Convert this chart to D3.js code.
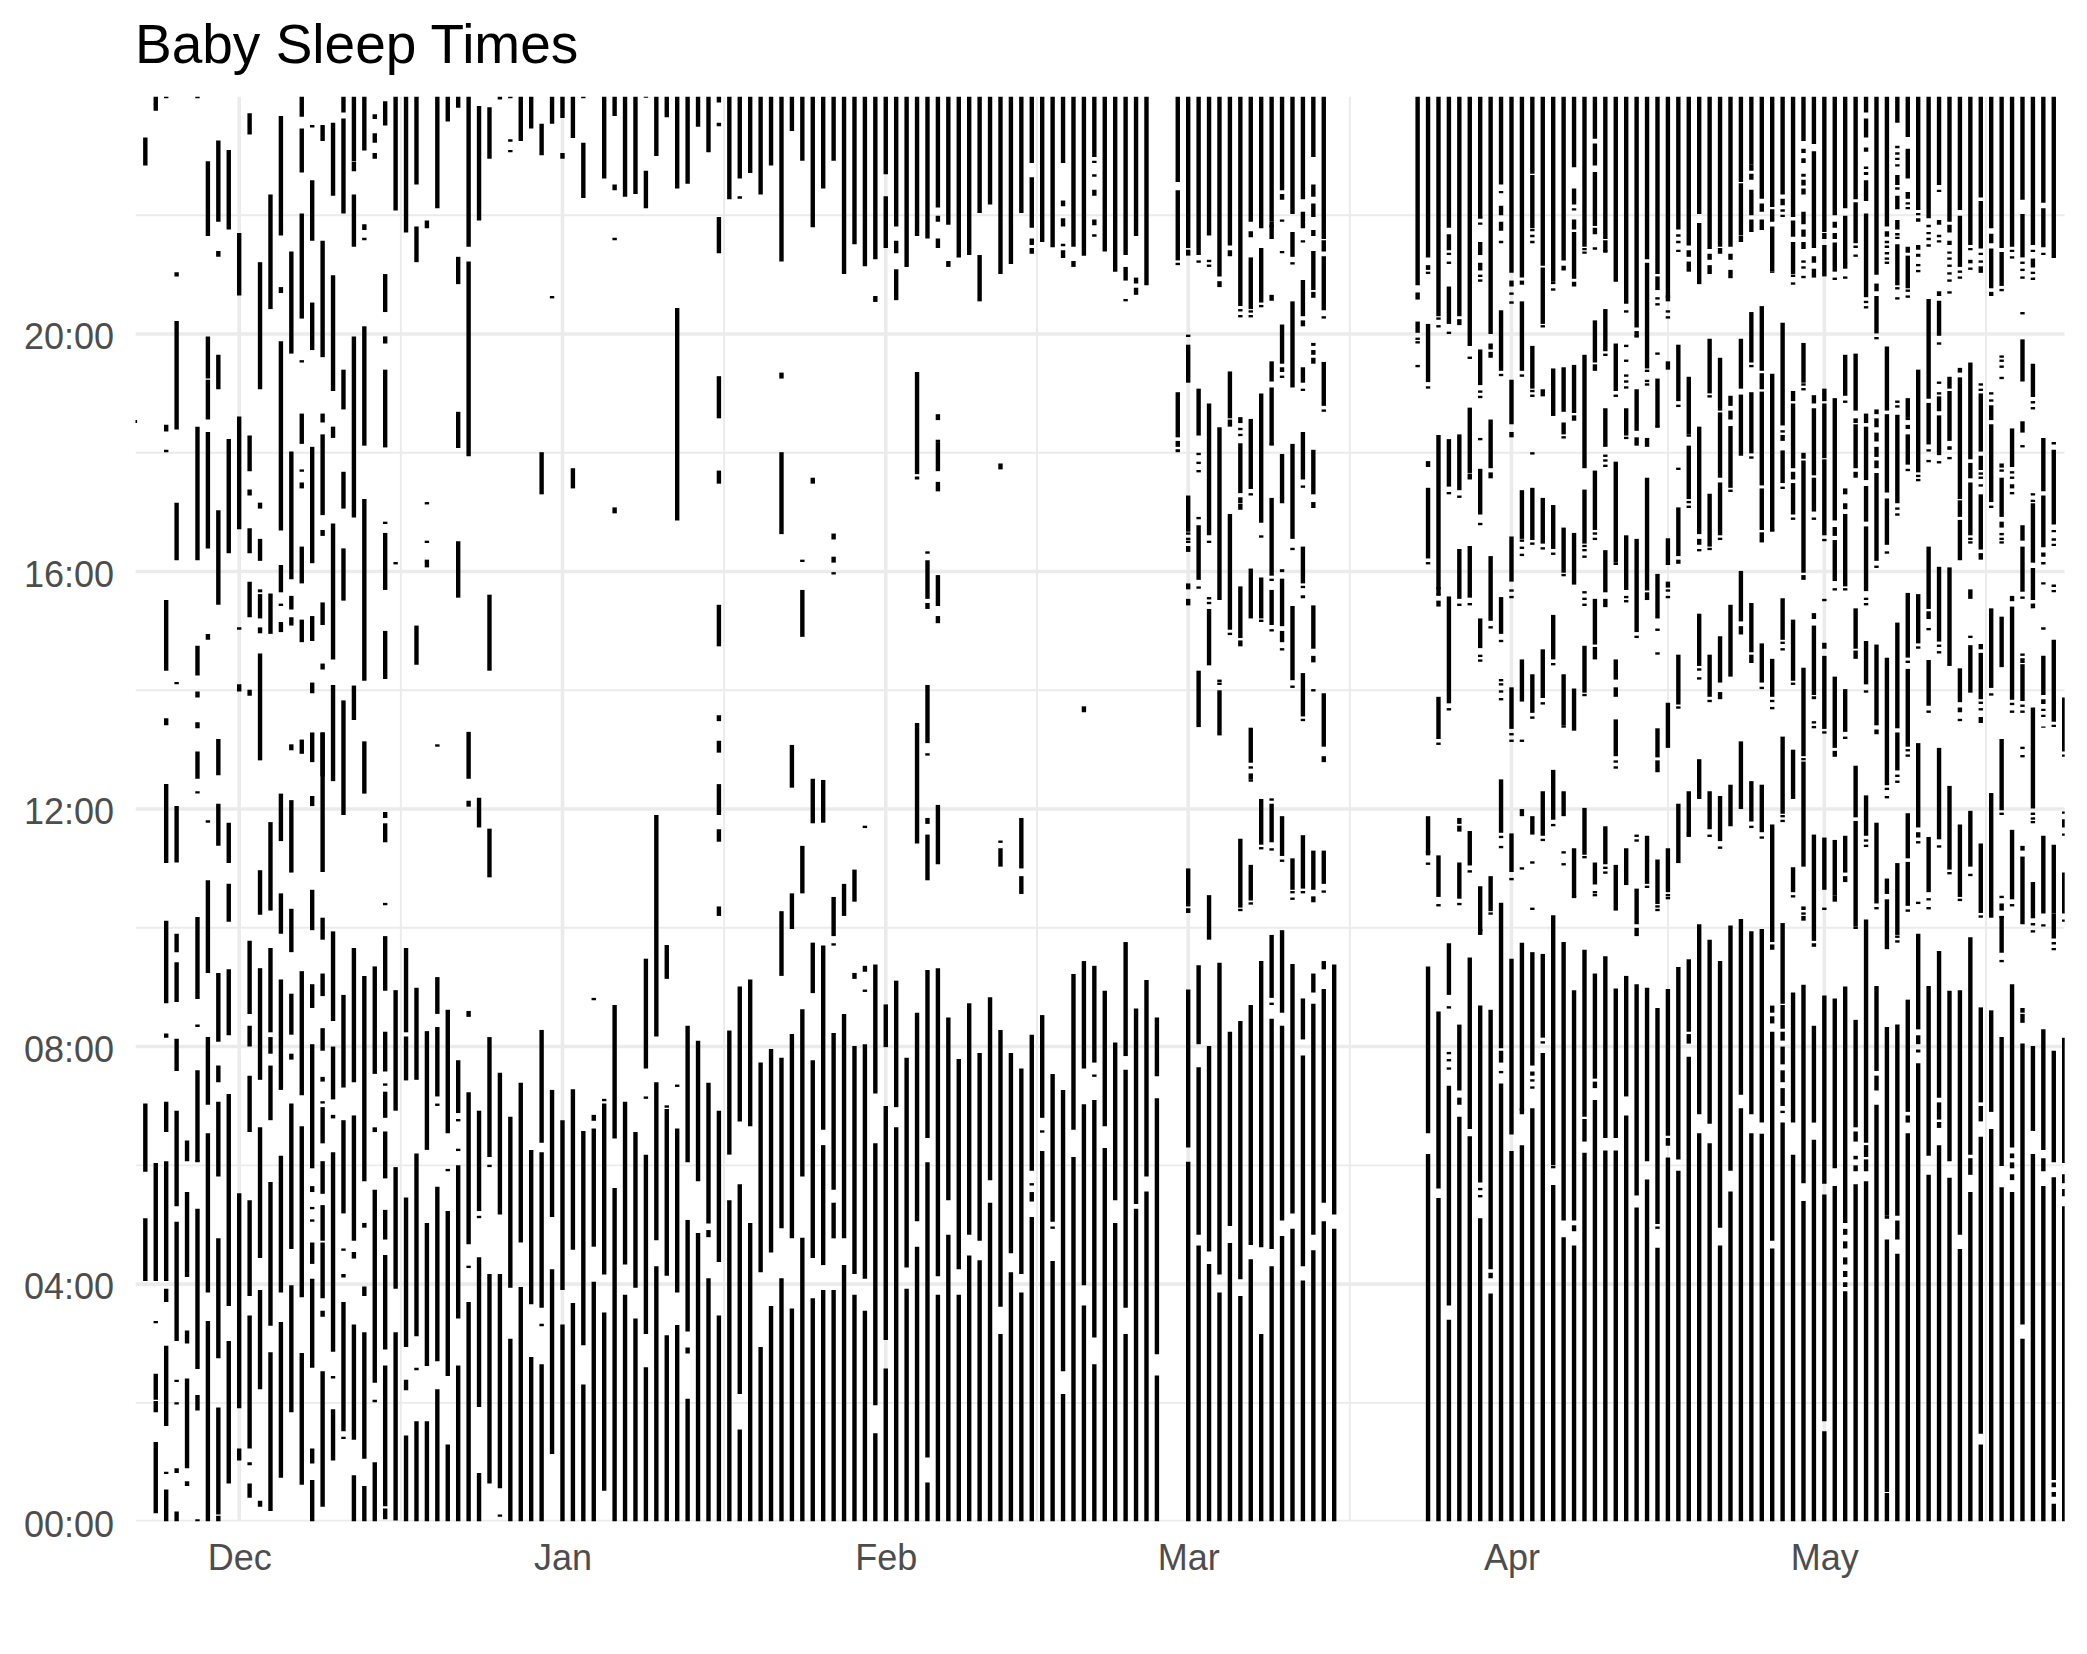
<!DOCTYPE html>
<html><head><meta charset="utf-8">
<script src="https://cdn.jsdelivr.net/npm/d3@7/dist/d3.min.js"></script>
<style>html,body{margin:0;padding:0;background:#fff}svg{display:block}</style>
</head><body><svg id="c" width="2087" height="1654"></svg>
<script>
const titleText = "Baby Sleep Times";
const hourTicks = [0,4,8,12,16,20];
const hourMinor = [2,6,10,14,18,22];
const monthTicks = [[2019,11,"Dec"],[2020,0,"Jan"],[2020,1,"Feb"],[2020,2,"Mar"],[2020,3,"Apr"],[2020,4,"May"]];
const monthMinor = [[2019,11,16.5],[2020,0,16.5],[2020,1,15.5],[2020,2,16.5],[2020,3,16],[2020,4,16.5]];

// each row = one day, flat list of sleep start,end pairs in decimal hours
const sleepNov = [ // from Nov 21
[18.5,18.55],
[4.05,5.11,5.89,7.04,22.84,23.31],
[.14,1.34,1.84,2.03,2.05,2.49,3.34,3.38,4.05,6.04,23.76,24],
[0,.54,.8,.84,1.61,2.96,3.7,3.92,4.05,6.07,6.56,7.07,8.15,8.22,8.73,10.12,11.09,12.42,13.41,13.53,14.33,15.52,18.01,18.05,18.36,18.47,23.97,24],
[0,.17,.82,.9,1.97,2.01,2.35,2.39,3.04,5.05,5.31,6.92,7.59,8.13,8.75,9.42,9.59,9.9,11.1,12.05,14.1,14.14,16.19,17.16,18.39,20.22,20.97,21.04],
[.6,.68,.9,2.41,3,3.22,4.12,5.55,6.07,6.42],
[0,.04,1.87,2.13,2.57,5.27,6.05,6.09,6.07,7.6,8.33,8.37,8.8,10.18,12.26,12.3,12.51,12.97,13.36,13.46,13.88,13.98,14.25,14.75,16.19,18.44,23.97,24],
[0,3.38,3.86,6.54,7.02,8.16,9.24,10.8,11.77,11.81,16.39,18.35,18.56,19.23,19.25,19.96,14.85,14.95,21.65,22.91],
[0,.1,.12,1.92,2.75,4.77,5.81,7.07,7.4,7.68,8.08,9.24,11.38,12.09,12.57,13.18,15.44,17.03,19.07,19.65,21.3,21.4,21.89,23.26],
[.64,3.04,3.63,7.2,8.19,9.3,10.1,10.74,11.09,11.77,16.31,18.23,21.76,23.1]];
const sleepDec = [
[1.03,1.23,1.91,5.53,13.98,14.1,15.02,15.06,16.71,18.61,20.65,21.7],
[.4,.64,.95,1,1.23,3.47,3.8,5.41,6.56,7.51,8,8.35,8.55,9.78,13.91,14.01,15.23,15.83,16.31,16.73,17.28,17.38,17.69,18.29,23.36,23.72],
[.25,.35,2.23,3.9,4.44,6.64,7.44,9.32,10.22,10.97,12.82,14.62,14.96,15.06,15.21,15.62,15.65,15.7,16.18,16.55,17.06,17.16,19.07,21.21],
[.18,2.85,3.3,5.72,6.76,7.68,7.88,8.16,8.24,9.66,10.29,11.78,14.95,15.63,20.42,22.35],
[.74,3.36,3.86,6.16,7.27,9.13,9.9,10.58,11.46,12.26,14.98,15.15,15.42,15.46,15.65,16.11,16.69,19.88,20.69,20.79,21.66,23.67],
[1.84,3.98,4.59,7.04,7.78,7.88,8.2,8.89,9.59,10.32,10.93,12.15,12.99,13.09,15.09,15.23,15.36,15.59,15.87,18.02,19.67,21.39],
[.62,2.84,3.78,6.66,7.18,9.27,12.93,13.17,14.81,15.19,15.8,16.42,17.4,17.5,17.68,17.72,18.15,18.66,19.52,19.56,20.26,22.03,22.72,23.46,23.66,24],
[0,.7,.98,1.23,2.59,4.09,4.34,4.7,5.05,5.09,5.26,5.3,5.55,5.65,5.95,8.04,8.65,9.05,9.96,10.64,12.05,12.22,12.79,13.29,13.95,14.13,14.83,15.25,16.14,18.1,19.73,20.53,21.57,22.59,23.48,23.52],
[.25,2.53,3.45,3.55,3.76,4.7,4.73,5.33,5.52,6.07,6.37,6.98,7.04,7.08,7.41,7.49,7.93,8.31,8.85,9.23,9.8,10.17,10.94,13.29,12.55,13.29,14.35,14.45,15.1,15.48,16.6,16.7,16.95,18.31,18.51,18.66,19.61,21.57,23.25,23.52],
[1.03,1.89,2.41,2.45,2.86,6.22,6.79,6.85,7.11,8,8.43,9.94,12.47,14.09,14.52,16.81,18.25,18.44,19.04,20.99,22.33,23.56],
[1.52,3.7,1.39,1.43,4.11,4.17,4.56,4.6,5.19,6.76,7.31,8.87,11.9,13.83,15.51,16.39,17.06,17.68,18.73,19.4,22.03,23.63,23.73,24],
[0,.78,1.38,3.32,4.43,4.54,4.73,6.84,7.4,9.66,13.5,14.08,16.91,19.96,21.47,22.35,22.74,22.9,22.91,24],
[0,.6,1.06,3.19,3.8,3.96,4.95,5.03,5.73,9.19,12.26,13.14,14.16,17.22,18.12,20.13,21.58,21.62,21.75,21.85,23.09,24],
[0,1,2.01,2.05,2.34,5.59,6.56,6.64,7.54,9.35,22.95,23.05,23.22,23.38,23.62,23.7],
[.04,.22,.26,2.63,2.9,4.49,4.75,5.25,5.78,6.57,6.8,7.24,7.34,7.38,7.58,8.25,8.94,9.86,10.38,10.42,11.44,11.76,11.85,11.95,14.19,15,15.69,16.65,16.8,16.84,18.09,19.4,19.84,19.96,20.37,21.01,23.51,23.92],
[.02,3.19,3.92,5.97,6.92,8.95,16.12,16.16,22.08,24],
[0,1.45,2.21,2.39,2.94,5.46,7.43,8.17,8.24,9.66,21.71,24],
[0,1.69,2.55,2.59,3.12,6.2,7.44,8.99,14.43,15.09,21.21,21.81,22.52,24],
[0,1.69,2.62,5.03,6.26,8.26,16.07,16.2,16.48,16.52,17.13,17.17,21.78,21.91],
[0,2.23,2.7,5.64,7,7.04,7.16,8.33,8.55,9.17,13.05,13.09,22.12,24],
[0,1.3,2.45,5.23,5.9,5.94,6.54,8.62,23.58,24],
[0,2.63,3.42,6,6.24,6.28,6.74,6.78,6.88,7.77,15.56,16.51,18.08,18.69,20.84,21.3,23.81,24],
[0,3.7,4.27,4.31,4.67,7.23,8.5,8.6,12.04,12.14,12.51,13.3,17.94,21.22,21.47,24],
[0,.82,1.93,4.45,5.11,5.15,5.23,6.92,11.69,12.19,21.91,23.84],
[.64,4.17,5.97,6.01,6.14,8.16,10.85,11.67,14.33,15.61,22.95,23.82],
[.08,.12,.56,4.17,5.17,7.56,23.95,24],
[0,3.08,3.94,6.82,23.06,23.1,23.24,23.28,23.97,24],
[0,3.95,4.7,7.39,23.25,24],
[0,2.77,3.66,6.26,23.46,24],
[0,2.65,3.29,3.33,3.6,6.22,6.38,8.28,17.3,18.01,23.01,23.54],
[1.14,4.25,5.13,7.27,20.6,20.64,23.54,24]];
const sleepJan = [
[0,3.32,3.9,6.76,22.95,23.05,23.64,24],
[0,3.68,4.58,7.28,17.4,17.74,23.3,24],
[0,2.31,2.97,6.58,22.29,23.22,23.97,24],
[0,4.04,4.63,6.62,6.75,6.85,8.78,8.82],
[.52,3.52,4.16,7.04,7.08,7.12,22.62,24],
[0,5.62,6.45,8.7,16.98,17.08,21.58,21.62,22.42,22.52,23.67,24],
[0,3.82,4.33,7.07,22.31,24],
[0,3.42,3.94,6.56,22.36,24],
[0,2.6,3.16,6.18,7.12,7.16,7.63,9.48,22.12,22.75,23.98,24],
[0,4.3,4.74,7.4,8.17,11.9,23,24],
[0,3.14,4.14,6.95,6.97,7.01,9.14,9.71,23.65,24],
[0,3.31,3.86,6.62,7.32,7.36,16.86,20.44,22.45,24],
[0,2.07,2.83,2.93,3.2,5.08,6.05,8.35,22.53,24],
[0,4.86,5.73,8.1,23.49,24],
[0,4.1,4.79,4.91,5.02,7.39,23.06,24],
[0,3.47,4.37,6.92,10.2,10.36,11.45,11.66,11.9,12.42,12.95,13.15,13.48,13.58,14.74,15.44,17.48,17.7,18.58,19.29,21.36,21.97,23.5,23.56,23.9,24],
[0,5.41,6.18,8.27,22.27,24],
[0,1.55,2.15,5.68,6.74,9.01,22.28,22.32,22.62,24],
[0,5.03,6.66,9.13,22.71,24],
[0,2.94,4.2,7.73,22.35,24],
[0,3.63,4.53,7.96,22.84,24],
[0,4.1,4.94,7.81,9.19,10.28,16.63,18.01,19.25,19.35,21.22,24],
[0,3.59,4.77,8.21,9.98,10.58,12.36,13.08,23.42,24],
[0,4.78,5.81,8.63,10.58,11.38,14.9,15.69,16.16,16.2,22.92,24],
[0,3.76,4.44,7.77,8.9,9.75,11.76,12.51,17.48,17.58,21.8,24],
[0,3.9,4.32,6.34,6.6,9.7,11.77,12.49,22.45,24],
[0,3.9,4.77,5.37,5.59,8.23,9.7,9.74,9.86,10.52,15.95,15.99,16.15,16.25,16.54,16.64,22.92,24],
[0,4.32,4.77,8.55,10.2,10.74,21.01,24],
[0,3.82,4.17,8.01,9.14,9.24,10.44,10.98,21.51,24],
[0,3.55,4.09,8.04,8.92,8.96,9.26,9.36,11.68,11.72,21.14,24],
[0,1.49,1.96,6.37,7.21,9.38,20.54,20.64,21.26,24]];
const sleepFeb = [
[0,2.58,3.06,7,7.99,8.71,21.45,22.32,22.69,24],
[0,6.64,6.98,9.11,20.57,21.09,21.36,21.57,21.81,24],
[0,3.92,4.28,7.81,21.13,24],
[0,4.63,5.06,8.57,11.42,13.45,17.55,17.6,17.64,19.36,21.65,24],
[0,.66,1.08,6.05,6.46,9.29,10.8,11.57,11.75,11.85,12.9,12.94,13.11,14.09,15.37,15.47,15.54,16.19,16.3,16.34,21.61,24],
[0,3.82,4.13,9.32,11.07,12.07,15.13,15.25,15.42,15.94,17.35,17.51,17.69,18.18,18.18,18.22,18.55,18.65,21.45,21.61,21.89,21.99,22.13,24],
[0,4.83,5.41,8.49,21.13,21.23,21.84,24],
[0,3.82,4.25,7.79,21.29,24],
[0,4.48,4.83,8.73,21.33,24],
[0,4.4,4.73,7.89,20.55,21.33,22.04,24],
[0,5.37,5.75,8.83,22.18,24],
[0,3.16,3.62,8.28,11.03,11.34,11.43,11.47,17.72,17.82,21.01,24],
[0,4.2,4.52,7.89,21.18,24],
[0,3.86,4.17,7.63,10.57,10.87,11,11.85,22.04,24],
[0,5.13,5.39,5.55,5.66,5.7,5.91,8.2,21.35,21.45,21.5,21.61,21.79,22.64,22.88,24],
[0,6.24,6.55,6.59,6.8,8.53,21.55,24],
[0,4.39,4.93,4.97,5.05,7.54,21.46,24],
[0,2.15,2.53,7.27,21.28,21.41,21.48,21.52,21.81,21.95,22.15,22.25,22.88,24],
[0,6.14,6.6,9.22,21.13,21.23,21.47,24],
[0,3.64,3.98,7.03,7.63,9.44,13.63,13.73,21.32,24],
[0,2.65,3.1,7.1,7.49,7.53,7.73,9.36,21.64,21.68,21.83,21.93,22.33,22.43,22.65,22.69,22.88,22.92,22.98,24],
[0,6.29,6.66,8.94,21.39,24],
[0,5.03,5.41,8.07,21.05,24],
[0,3.16,3.6,7.61,7.84,9.76,20.55,20.59,20.9,21.13,21.33,24],
[0,5.27,5.35,8.64,20.66,20.78,20.85,20.95,21.65,24],
[0,5.56,5.81,9.12,20.82,24],
[0,2.46,2.82,7.13,7.5,8.49],
[],
[18.01,18.06,18.1,18.2,18.26,19.02,21.16,21.2,21.24,22.42,22.56,24]];
const sleepMar = [
[0,6.06,6.3,8.96,10.25,10.33,10.36,10.4,10.4,11,15.43,15.54,15.7,15.8,16.33,16.43,16.48,16.52,16.53,16.57,16.62,16.66,16.67,17.28,19.18,19.82,19.95,19.99,21.32,21.42,21.45,24],
[0,4.65,4.83,7.65,8.04,9.37,13.38,13.48,13.47,14.33,15.71,15.75,15.86,16.78,16.88,16.92,17.67,17.71,17.81,17.85,17.96,18,18.29,19.08,21.33,24,21.2,21.24],
[0,4.34,4.55,8.01,9.8,10.55,14.42,15.37,15.45,15.49,15.53,15.57,16.48,16.52,16.61,18.83,21.13,21.17,21.21,21.25,21.66,24],
[0,3.86,4.16,9.41,13.24,14,14.09,14.13,14.14,14.18,15.52,18.43,20.79,20.89,20.97,24],
[0,4.69,4.98,8.25,14.93,14.97,15.02,16.97,18.44,18.56,18.58,19.37,21.31,21.41,21.49,24],
[0,3.8,4.08,8.43,10.28,10.32,10.34,11.5,14.74,14.84,14.88,15.75,17.04,17.14,17.15,17.25,17.32,18.16,18.28,18.32,18.38,18.42,18.5,18.6,20.28,20.32,20.38,20.42,20.47,24],
[0,4.42,4.66,8.7,10.39,10.43,10.46,11.06,12.46,12.5,12.5,12.6,12.68,12.72,12.78,13.37,15.21,16.05,17.28,17.32,17.39,18.57,20.28,20.32,20.36,20.4,20.42,21.29,21.63,21.73,21.89,24],
[0,3.16,4.62,9.44,11.32,11.36,11.4,12.17,15.15,15.19,15.21,15.9,16.57,16.61,16.82,19,20.45,20.49,20.53,21.45,21.78,24],
[0,4.3,4.59,8.47,8.7,8.74,8.82,9.88,11.3,11.34,11.44,12.09,12.14,12.18,14.99,15.03,15.1,15.69,15.84,15.88,15.93,17.24,18.12,18.16,18.14,19.1,19.2,19.54,20.56,20.66,21.6,21.89,21.8,21.84,21.89,24],
[0,4.81,5.07,8.35,8.57,9.96,11.11,11.15,11.21,11.88,14.67,14.71,14.81,15,15.08,15.88,15.99,16.04,17.15,17.25,17.24,17.98,19.26,19.3,19.36,19.44,19.5,20.16,21.36,21.4,21.89,21.93,22.26,22.36,22.42,24],
[0,4.93,5.19,9.39,10.47,10.51,10.58,10.62,10.64,11.17,14.04,14.08,14.17,15.42,16.36,16.4,16.55,18.15,19.1,20.55,21.17,21.21,21.3,21.72,22.02,24],
[0,4.06,4.3,7.85,8.12,8.81,10.58,10.62,10.66,11.56,13.48,13.52,13.56,14.29,15.55,15.6,15.72,15.76,15.8,16.42,17.41,17.45,17.55,18.35,19.04,19.08,19.18,19.44,20.13,20.23,20.3,20.91,21.54,21.58,21.78,22.06,22.27,24],
[0,4.57,4.83,8.72,8.91,9.23,10.43,10.53,10.64,11.3,13.98,14.02,14.47,14.58,14.7,15.43,17.07,17.17,17.3,18.05,19.5,19.6,19.65,19.73,19.8,19.85,20.61,20.71,20.74,21.4,21.65,21.75,21.97,22.2,22.31,22.52,22.98,24],
[0,5.06,5.37,8.97,9.3,9.44,10.59,10.63,10.74,11.3,12.79,12.89,13.05,13.95,18.69,18.73,18.79,19.53,20.26,20.3,20.4,21.31,21.39,21.58,21.6,24],
[0,4.93,5.17,9.38],
[],[],[],[],[],[],[],
[19.44,19.48,19.84,19.88,19.9,19.94,20.02,20.21,20.58,20.7,20.82,24],
[0,6.19,6.54,9.35,11.06,11.1,11.22,11.3,11.25,11.88,16.12,16.16,16.22,17.41,17.76,17.86,19.08,19.12,19.19,20.17,21.01,21.05,21.08,21.16,21.29,24],
[0,5.45,5.61,8.59,10.36,10.4,10.52,11.22,13.08,13.12,13.18,13.89,15.41,15.51,15.59,15.63,15.7,15.74,15.61,18.3,20.11,20.15,20.24,20.28,20.3,24],
[0,3.4,3.64,7.34,7.61,7.65,7.75,7.79,7.87,7.91,8.64,8.68,8.87,9.74,13.66,13.7,13.78,15.58,17.3,17.34,17.43,18.23,20,20.04,20.17,20.8,21.18,21.22,21.33,21.37,21.41,21.68,21.79,24],
[0,6.82,7.02,7.14,7.26,8.37,10.38,10.42,10.49,11.1,11.62,11.72,11.75,11.85,15.42,15.46,15.54,16.38,17.24,17.28,17.37,18.31,20.15,20.25,20.3,24],
[0,6.49,6.61,9.5,10.93,10.97,11.05,11.63,15.43,15.47,15.56,16.43,17.55,17.65,17.66,18.76,19.58,19.62,19.8,24],
[0,5.11,5.46,5.5,5.58,5.62,5.71,8.69,9.88,9.98,10.68,10.68,10.7,9.94,14.48,14.52,14.56,14.6,14.71,15.21,16.78,16.82,16.96,17.73,18.21,18.25,18.92,18.96,19.01,19.05,19.14,19.74,20.88,20.92,20.96,21,21.07,21.2,21.33,21.55,21.84,21.88,21.94,21.98,21.96,24],
[0,3.84,4.1,4.19,4.25,8.62,10.22,10.26,10.28,10.87,15.04,15.08,15.17,16.26,17.57,17.67,17.74,18.56,19.6,19.7,19.74,19.84,20,24],
[0,7.38,7.55,7.59,7.73,7.93,7.97,10.42,11.34,11.38,11.51,11.55,11.6,12.5,13.83,13.87,13.96,14.0,14.08,14.12,14.15,14.19,14.95,15.57,14.81,14.85,19.29,19.33,19.38,20.4,21.53,21.57,21.74,21.89,22,22.16,22.37,22.41,22.52,24]];
const sleepApr = [
[0,6.24,6.52,9.48,10.8,10.84,10.94,11.59,13.13,13.17,13.24,13.28,13.35,14.05,15.55,15.59,15.66,15.7,15.83,16.59,18.26,18.35,18.48,19.23,20.51,20.55,20.66,20.7,20.8,20.9,21.03,24],
[0,6.34,6.86,6.96,6.92,9.75,10.98,11.02,11.88,12,13.13,13.17,13.81,14.52,16.26,16.3,16.38,16.42,16.5,16.54,16.55,17.37,19.28,19.32,19.38,20.55,20.83,20.9,20.95,24],
[0,6.96,7.29,7.33,7.41,7.45,7.51,7.58,7.68,9.59,10.3,10.34,11.08,11.12,11.57,11.88,13.52,13.56,13.62,14.27,16.45,16.49,16.53,17.41,17.97,18.01,19.08,19.8,18.94,18.98,19.02,19.06,21.53,21.57,21.63,21.67,21.73,21.77,21.78,22.68,22.7,24],
[0,7.89,8.05,8.09,8.15,9.56,11.46,11.5,11.55,12.3,13.76,13.8,13.87,14.69,16.37,16.41,16.47,17.24,18.95,19.07,20.11,20.15,20.17,21.12,21.15,24],
[0,5.67,5.95,5.99,6,10.21,11.71,11.75,11.82,12.66,14.42,14.46,14.52,15.27,16.28,16.32,16.38,17.12,18.62,19.42,20.73,20.77,20.84,20.88,20.88,24],
[0,4.79,5.07,9.76,11.05,11.09,11.25,11.29,11.88,12.3,13.37,13.41,13.41,14.27,15.92,15.96,15.98,16.74,18.24,18.28,18.31,18.51,18.69,19.44,21.07,21.15,21.24,24],
[0,4.65,4.89,4.99,5.07,8.95,10.5,10.54,10.52,11.34,13.32,14.03,15.78,16.65,18.54,18.63,18.67,19.48,20.8,20.88,20.93,21.72,21.76,21.93,22.08,22.12,22.18,22.45,22.81,24],
[0,6.21,6.4,6.78,6.82,9.63,11.17,11.21,11.23,12.02,13.9,13.94,13.96,14.75,15.42,15.46,15.52,15.56,15.63,15.67,16.23,16.27,16.34,16.38,16.41,16.45,16.47,17.38,17.74,19.65,21.35,21.39,21.41,21.45,21.47,24],
[0,7.1,7.3,7.41,7.46,9.23,10.53,10.57,10.58,10.62,10.73,11.1,14.52,14.73,14.77,15.54,16.53,16.57,16.62,16.66,16.7,17.7,19.38,19.49,19.52,20.23,21.42,21.46,21.68,21.79,21.82,22.73,22.84,23.21,23.29,24],
[0,6.25,6.46,9.52,10.91,10.95,10.99,11.03,11.07,11.71,15.4,15.54,15.65,16.36,17.76,17.8,17.85,17.89,17.93,17.97,18.1,18.75,19.63,19.67,19.71,20.42,21.37,21.41,21.39,21.58,21.6,24],
[0,6.25,6.46,8.98,10.29,11.06,12.68,12.72,12.78,12.82,12.89,13.51,13.89,14.05,14.18,14.52,16.11,16.15,16.15,17.85,18.94,18.98,19.04,19.84,20.88,24],
[0,6.84,7.16,9.19,10.72,11.34,15.48,15.52,15.55,15.59,15.69,16.61,18.23,18.27,18.29,18.75,19.08,19.12,19.18,19.22,19.28,19.32,19.53,19.57,19.78,19.82,20.36,20.4,20.51,24],
[0,5.29,5.49,9.05,9.86,10,10.06,10.66,11.45,11.49,11.53,11.57,14.88,14.92,14.98,16.55,18.12,18.26,18.37,19.07,19.94,19.98,19.96,20.05,20.11,24],
[0,5.76,6.07,8.99,10.67,10.71,10.74,11.55,15.52,15.65,15.68,17.58,18.1,18.25,19.13,19.17,19.19,19.23,19.36,19.4,19.42,21.2,21.26,24],
[0,4.61,4.93,4.97,5.01,8.65,10.28,10.32,10.34,10.38,10.4,11.15,12.62,12.82,12.87,13.36,14.6,14.64,15,15.04,15.21,15.96,18.42,18.46,19.65,19.69,18.44,19.25,20.48,20.52,20.58,20.62,20.74,20.97,21.01,24],
[0,6.13,6.33,6.46,6.5,8.97,10.48,10.52,10.53,10.57,10.6,11.34,13.03,13.79,15.55,15.59,15.66,15.7,15.73,15.83,16.11,16.56,19.4,19.54,20.26,20.3,20.36,20.4,20.55,20.65,20.61,24],
[0,5.91,6.1,9.34,11.09,12.09,13.69,13.73,13.76,14.6,16.13,16.2,16.26,17.08,17.71,17.75,18.77,18.81,18.87,19.82,21.38,21.42,21.53,21.57,21.64,21.68,21.76,24],
[0,7.83,8.05,8.21,8.25,9.47,11.56,11.6,11.53,11.57,11.59,12.3,17.07,17.11,17.15,17.19,17.22,18.12,18.27,18.31,18.31,19.28,21.05,21.22,21.3,21.41,21.49,24],
[0,6.54,6.86,10.06,12.17,12.84,14.18,14.22,14.33,14.37,14.41,15.29,16.34,16.38,16.45,16.55,16.63,18.44,20.84,21.87,22.02,24],
[0,6.37,6.7,9.8,11.53,11.57,11.66,12.3,13.8,13.84,13.89,14.6,16.36,16.4,16.42,17.31,18.93,18.97,19,19.92,21.01,21.16,21.25,21.35,21.43,24],
[0,4.65,4.95,9.44,11.33,11.37,11.46,12.22,13.85,13.97,14.13,14.91,16.53,16.57,16.61,17.5,17.58,18.68,18.71,19.6,21.35,21.45,21.47,24],
[0,5.56,5.91,10.04,11.71,12.41,14.23,15.44,17.34,17.38,17.41,18.45,18.56,18.71,18.79,18.96,20.94,21.08,21.25,21.35,21.47,24],
[0,6.96,7.19,10.15,12,13.14,14.94,15.08,15.16,16.01,17.95,18.98,19.08,19.92,21.55,21.65,21.66,22.54,22.56,24],
[0,6.54,6.86,9.94,11.68,11.72,11.79,12.47,14.46,14.6,14.64,15.47,17.9,17.94,17.99,19.02,19.44,19.48,19.52,20.37,21.72,21.93,22,22.43,22.6,22.7,22.75,22.85,22.85,24],
[0,6.53,6.72,9.98,11.5,11.54,11.61,12.41,14.02,14.06,14.13,14.79,16.49,16.66,16.7,17.4,17.45,19.03,19.07,19.34,19.38,20.47,21.75,21.93,22.06,22.2,22.28,24],
[0,4.6,4.73,8.25,8.39,8.51,8.57,8.69,9.63,9.72,9.76,11.74,13.68,13.72,13.8,13.84,13.89,14.53,16.67,16.71,16.69,19.33,21.03,21.05,21.05,21.81,21.89,22.1,22.14,24],
[0,6.72,6.88,6.92,7,7.3,7.4,7.6,7.7,8.0,8.1,8.25,8.3,8.7,10.08,8.72,11.78,11.82,11.86,11.9,11.92,13.22,14.67,14.71,14.78,14.82,14.85,15.55,17.39,17.43,17.49,18.04,18.2,18.3,18.34,18.38,18.46,20.19,21.97,22.01,22.06,22.1,22.17,22.28,22.35,24],
[0,6.18,6.72,8.91,10.51,10.55,10.6,11.02,12.17,13.0,14.09,14.13,14.16,15.19,16.87,16.91,16.96,17.49,17.55,17.68,17.74,18.83,18.87,19.04,20.83,20.87,20.96,21,21.01,21.55,21.64,21.91,21.97,24],
[0,5.4,5.7,9.04,10.12,10.2,10.22,10.26,10.3,10.36,11.03,12.8,12.82,12.86,12.89,14.38,15.86,15.94,15.98,17.87,17.9,18,19.05,19.09,19.13,19.17,19.18,19.85,20.94,20.98,21.1,21.14,21.2,21.24,21.43,21.55,21.64,21.76,21.85,22.06,22.35,22.45,22.5,22.6,22.65,22.7,22.88,22.96,23.05,23.12,23.25,24],
[0,6.43,6.72,8.35,9.68,9.74,9.78,11.57,13.36,13.4,13.44,13.48,13.85,13.9,13.92,15.09,15.2,15.3,16.87,16.91,17.01,17.58,17.62,18.75,18.83,18.97,20.95,21.1,21.2,21.31,21.45,23.08,23.2,24]];
const sleepMay = [
[0,1.52,1.69,5.51,5.69,8.86,10.3,10.34,10.64,11.52,13.27,13.31,13.35,14.58,14.7,14.8,15.5,15.54,15.98,15.98,16.51,16.55,16.61,17.89,17.91,18.83,18.87,19.08,20.97,21.5,21.6,21.7,21.72,24],
[0,5.65,5.95,8.81,10.44,10.54,10.54,11.48,12.88,12.98,13.03,14.23,15.68,15.72,15.84,16.53,16.6,16.75,16.86,18.92,20.91,20.95,21.05,21.54,21.6,21.7,21.79,21.89,22,24],
[0,3.88,3.95,4.03,4.12,4.22,4.33,4.45,4.6,4.72,4.83,4.93,5.03,9.01,10.77,10.87,10.93,11.55,13.18,13.22,13.3,14.02,15.68,15.72,15.75,16.97,17.05,17.15,17.3,17.4,18.84,18.88,18.96,19.65,20.93,20.97,21.1,21.2,21.19,21.99,22.12,24],
[0,5.68,5.9,6,6.1,6.16,6.4,6.57,6.64,8.45,9.98,10.02,10.02,11.8,11.86,12.73,14.53,14.67,14.7,15.38,17.58,17.68,17.74,18.48,18.5,18.58,18.71,19.67,21.3,21.34,21.45,21.49,21.53,22.22,22.27,24],
[0,5.73,5.9,6.1,6.14,6.34,6.38,10.14,11.36,11.4,11.45,11.49,11.55,12.23,13.96,14,14.1,14.83,15.43,15.47,15.52,15.56,15.67,16.76,16.84,17.44,17.54,18.44,18.5,18.66,20.43,20.47,20.52,20.56,20.62,22.03,22.24,22.59,22.68,22.73,22.78,22.82,23.07,23.14,23.31,23.63,23.73,24],
[0,7.02,7.26,7.51,7.59,9.02,10.31,10.35,10.41,11.77,13.26,13.34,13.41,14.77,16.06,16.1,16.18,17.66,17.74,17.87,17.93,18.1,18.19,18.34,18.43,18.58,18.65,18.73,19.91,19.95,20.01,20.64,20.72,20.85,21,24],
[0,.48,.5,4.75,5.1,5.15,5.15,8.33,9.64,10.48,10.57,10.83,12.18,12.22,12.32,12.36,12.4,14.55,16.3,16.34,16.45,17.23,17.33,18.65,18.71,19.79,21.18,21.22,21.25,21.29,21.34,21.38,21.45,21.49,21.53,21.57,21.64,21.73,21.81,24],
[0,4.51,4.75,5.07,5.15,8.37,9.75,9.79,9.83,9.87,9.88,11.09,12.44,12.48,12.54,12.58,12.65,13.29,13.36,15.14,16.94,16.98,17.04,17.08,17.15,18.64,18.76,18.8,18.84,18.88,20.58,20.62,20.75,20.79,20.82,21.51,21.6,21.64,21.66,21.7,21.76,21.92,22.1,22.33,22.43,22.47,22.51,22.68,22.82,22.86,22.93,22.97,23.02,23.06,23.13,23.17,23.56,24],
[0,6.54,6.72,6.84,6.9,8.79,10.27,10.31,10.37,11.11,11.17,11.93,12.88,12.92,12.97,13.01,13.05,14.36,14.46,14.5,14.55,15.64,17.69,17.73,17.8,18.31,18.4,18.47,18.55,18.6,18.6,18.92,20.61,20.65,20.71,20.75,20.77,21.32,21.37,21.47,22.1,22.14,22.18,22.22,22.28,22.39,22.62,23.04,23.03,23.12,23.32,24],
[0,7.72,7.9,7.95,8.04,8.19,8.29,9.9,10.4,10.44,11.42,11.46,11.52,11.61,11.69,13.11,14.7,14.74,14.79,15.62,17.52,17.56,17.59,17.63,17.67,19.4,21.04,21.08,21.14,21.18,21.3,21.35,21.42,21.5,21.89,21.95,22,22.04,22.09,24],
[0,5.84,6.16,9.02,10.31,10.35,10.46,10.5,10.6,11.53,13.62,13.66,13.74,14.51,15.01,15.05,15.2,15.33,15.37,16.42,17.84,17.88,18.02,18.06,18.14,18.84,18.91,20.59,21.47,21.51,21.58,21.62,21.68,21.72,21.8,21.84,21.95,24],
[0,6.34,6.63,6.73,6.77,7.06,7.14,9.61,11.35,11.39,11.49,13.03,14.62,14.66,14.73,14.77,14.82,16.08,17.82,17.86,17.96,18.63,18.7,18.95,18.98,19.02,19.16,19.2,19.82,19.86,19.97,20.56,20.64,20.72,21.54,21.58,21.63,21.67,21.84,21.92,22.39,22.43,22.51,24],
[0,5.79,6.07,8.94,10.9,10.94,10.98,12.39,14.41,16.07,17.89,17.93,18.05,18.11,18.2,19.04,19.08,19.28,20.68,20.72,20.88,20.92,21,21.04,21.13,21.17,21.25,21.29,21.35,21.39,21.5,21.57,21.71,21.84,21.89,24],
[0,4.59,4.83,8.95,10.45,10.49,10.52,11.74,13.48,13.52,13.63,13.71,13.8,14.37,16.19,16.87,16.92,17.2,17.22,19.27,19.35,19.43,20.93,20.97,21.03,21.07,21.13,21.99,22.09,24],
[0,5.55,5.84,6.12,6.18,9.84,10.87,10.91,11.03,11.97,13.96,14.76,14.88,14.92,15.54,15.7,16.47,16.51,16.53,16.57,16.61,17.5,17.57,17.83,17.89,19.52,21.08,21.12,21.19,21.25,21.41,21.45,21.5,24],
[0,1.3,1.48,6.48,6.74,7,7.06,8.66,10.17,10.21,10.25,11.42,13.45,13.55,13.66,13.7,13.77,13.81,13.85,14.63,14.69,14.78,16.2,16.31,16.37,17.3,17.43,17.47,17.56,17.6,17.63,17.67,17.71,17.95,18.02,19,19.04,19.08,19.13,19.17,21.03,21.14,21.2,21.24,21.33,21.37,21.44,22.24,22.3,24],
[0,6.61,6.9,8.61,10.17,12.27,13.91,13.95,14.04,15.38,17.07,17.11,17.17,18.48,18.55,18.8,18.86,18.9,18.98,19.02,20.64,20.71,20.77,21.44,21.53,21.69,21.78,24],
[0,5.63,5.99,8.16,9.42,9.46,9.58,10.2,10.16,10.2,10.29,10.41,10.5,10.54,11.9,11.94,11.98,13.18,14.39,15.24,16.47,16.51,16.53,16.57,16.61,16.65,16.74,16.84,16.92,17.58,17.68,17.72,17.75,17.82,19.24,19.28,19.43,19.47,19.53,19.57,19.6,19.64,20.72,20.76,20.81,21.38,21.45,24],
[0,5.55,5.75,5.85,5.95,6.05,6.12,6.2,6.3,9.05,10.36,10.4,10.48,11.65,13.62,13.66,13.75,13.79,13.84,15.41,15.5,15.59,17.3,17.34,17.4,17.47,17.56,17.6,17.65,17.69,17.76,18.41,21.27,21.31,21.38,21.42,21.47,24],
[0,3.08,3.32,8.05,8.4,8.55,8.57,8.65,10.06,11.2,11.3,11.38,12.87,12.91,13.01,13.05,13.62,13.66,13.72,13.76,13.82,14.44,14.46,14.54,14.58,14.62,15.54,15.58,15.66,16.42,16.52,16.78,18.09,18.13,18.34,18.53,19.2,19.91,20.33,20.37,21.06,21.1,20.93,20.97,21.18,21.22,21.29,22.02,22.26,24],
[0,6.19,6.58,8.01,9.92,9.96,10.04,10.08,10.16,10.77,11.76,11.8,11.82,11.86,11.9,11.94,12.01,13.71,15.38,15.46,15.52,16.06,16.15,17.15,17.17,17.21,17.28,17.32,18.73,18.77,18.83,18.87,18.94,19.5,20.91,20.95,21.01,21.05,21.12,21.27,21.38,21.42,21.5,24],
[0,5.65,5.9,6.12,6.26,8.29,10.02,10.06,10.24,11.55,13.37,13.39,13.55,13.59,13.65,13.69,13.77,13.85,13.92,14.58,15.02,15.06,15.78,15.82,16.12,16.16,16.25,16.32,16.41,17.28,17.35,18.25,21.33,21.37,21.46,22.12,22.21,24],
[0,.3,.42,.5,.58,.66,.7,5.8,6.05,7.93,9.62,9.66,9.72,9.76,9.82,10.24,10.24,11.4,13.38,13.42,13.47,14.85,15.65,15.69,15.74,15.78,16.43,16.47,16.52,16.56,16.66,16.7,16.79,18.05,18.14,18.18,21.28,24],
[0,5.31,5.48,5.6,5.7,5.85,6.04,8.15,10.1,10.14,10.24,10.93,11.55,11.59,11.69,11.83,11.92,11.96,12.88,12.92,12.97,13.88]];

const allDays = [...sleepNov,...sleepDec,...sleepJan,...sleepFeb,...sleepMar,...sleepApr,...sleepMay];

const svg = d3.select("#c");
const L = 135.5, R = 2064.7, T = 96.5, B = 1521.6;
const x = d3.scaleUtc().domain([Date.UTC(2019,10,21),Date.UTC(2020,4,24)]).range([134.9,2064.2]);
const y = d3.scaleLinear().domain([0,24]).range([B,T]);

svg.append("defs").append("clipPath").attr("id","p").append("rect")
  .attr("x",L).attr("y",T).attr("width",R-L).attr("height",B-T);
const g = svg.append("g").attr("clip-path","url(#p)");
const grid = "#ebebeb";
const utcM = m => Date.UTC(m[0],m[1],1);
const utcMid = m => Date.UTC(m[0],m[1],1)+(m[2]-1)*864e5;

g.selectAll("line.hm").data(hourMinor).join("line").attr("x1",L).attr("x2",R)
  .attr("y1",y).attr("y2",y).attr("stroke",grid).attr("stroke-width",1.9);
g.selectAll("line.vm").data(monthMinor).join("line").attr("y1",T).attr("y2",B)
  .attr("x1",d=>x(utcMid(d))).attr("x2",d=>x(utcMid(d))).attr("stroke",grid).attr("stroke-width",1.9);
g.selectAll("line.hM").data(hourTicks).join("line").attr("x1",L).attr("x2",R)
  .attr("y1",y).attr("y2",y).attr("stroke",grid).attr("stroke-width",3.6);
g.selectAll("line.vM").data(monthTicks).join("line").attr("y1",T).attr("y2",B)
  .attr("x1",d=>x(utcM(d))).attr("x2",d=>x(utcM(d))).attr("stroke",grid).attr("stroke-width",3.6);

const segs = [];
allDays.forEach((row,i)=>{
  const t = Date.UTC(2019,10,21)+i*864e5;
  for(let k=0;k+1<row.length;k+=2) segs.push({t,a:row[k],b:row[k+1]});
});
g.selectAll("line.s").data(segs).join("line")
  .attr("x1",d=>x(d.t)).attr("x2",d=>x(d.t))
  .attr("y1",d=>y(d.a)).attr("y2",d=>y(d.b))
  .attr("stroke","#000").attr("stroke-width",4.4);

const font = "'Liberation Sans',Arial,sans-serif";
const xAxis = d3.axisBottom(x).tickValues(monthTicks.map(utcM))
  .tickFormat((d,i)=>monthTicks[i][2]).tickSize(0).tickPadding(0);
const xg = svg.append("g").attr("transform",`translate(0,${B})`).call(xAxis);
xg.select(".domain").remove();
xg.selectAll("text").attr("y",0).attr("dy",0).attr("transform","translate(0,48.5)")
  .attr("font-family",font).attr("font-size",36).attr("fill","#4d4d4d");
const yAxis = d3.axisLeft(y).tickValues(hourTicks)
  .tickFormat(h=>String(h).padStart(2,"0")+":00").tickSize(0).tickPadding(21.5);
const yg = svg.append("g").attr("transform",`translate(${L},0)`).call(yAxis);
yg.select(".domain").remove();
yg.selectAll("text").attr("dy",14.5).attr("font-family",font).attr("font-size",36).attr("fill","#4d4d4d");
svg.append("text").attr("x",135).attr("y",62.5).attr("font-family",font)
  .attr("font-size",55).attr("fill","#000").text(titleText);
</script></body></html>
